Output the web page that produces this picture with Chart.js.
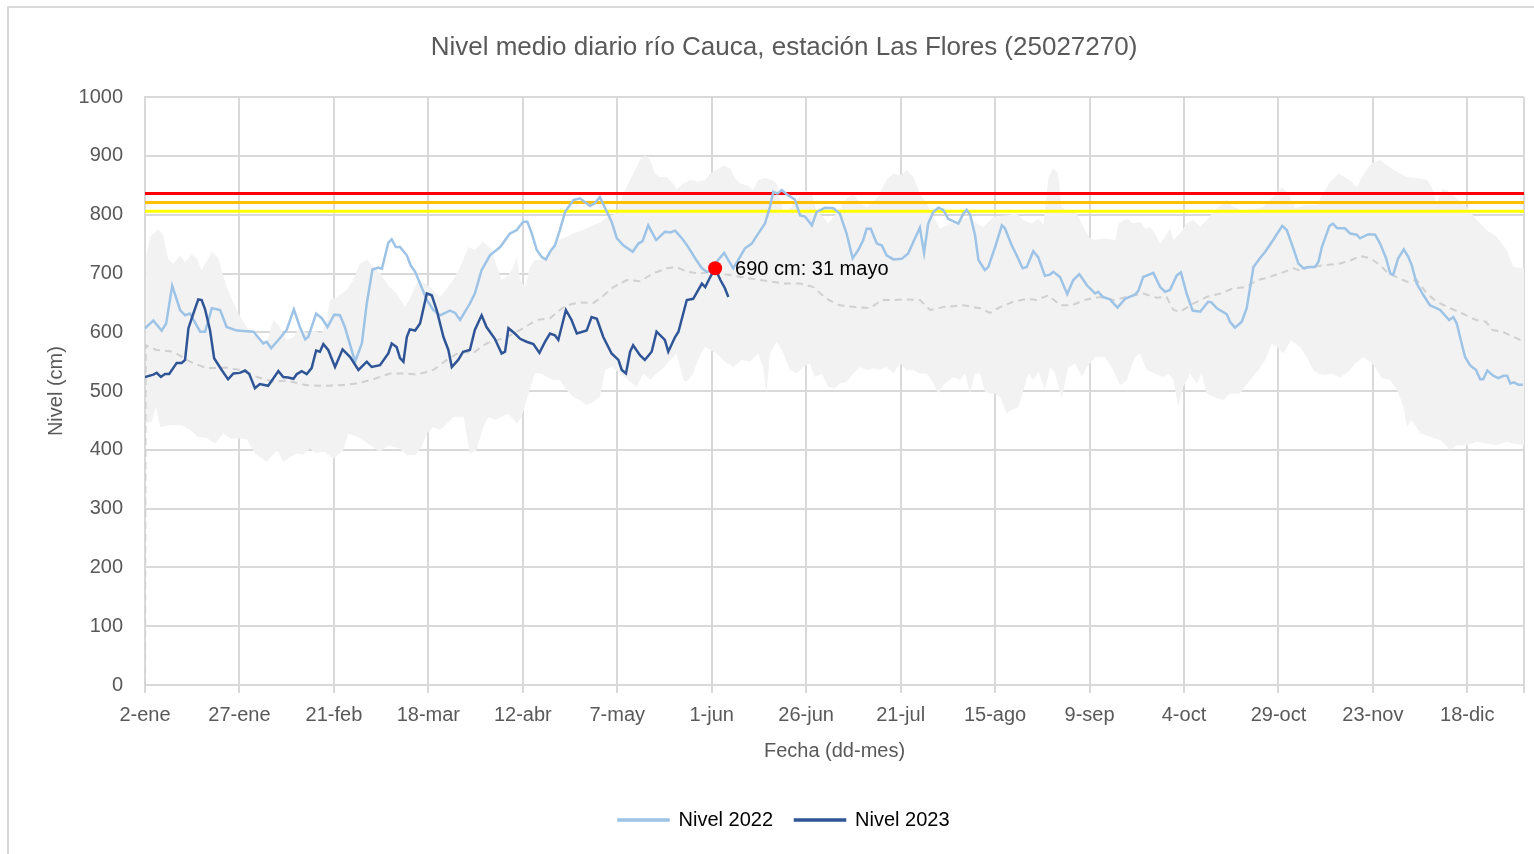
<!DOCTYPE html>
<html lang="es">
<head>
<meta charset="utf-8">
<title>Nivel medio diario río Cauca</title>
<script src="https://cdn.jsdelivr.net/npm/chart.js@4.4.1/dist/chart.umd.min.js"></script>
<style>
  html, body { margin: 0; padding: 0; background: #fff; }
  #marco { position: absolute; left: 7px; top: 6px; width: 1560px; height: 900px; border: 2px solid #d9d9d9; box-sizing: border-box; }
  #grafico { position: absolute; left: 0; top: 0; }
</style>
</head>
<body>
<div id="marco"></div>
<canvas id="grafico" width="1534" height="854"></canvas>
<script>
// Eje X: días desde el 2 de enero, etiqueta cada 25 días
const etiquetasX = ['2-ene', '27-ene', '21-feb', '18-mar', '12-abr', '7-may', '1-jun', '26-jun',
  '21-jul', '15-ago', '9-sep', '4-oct', '29-oct', '23-nov', '18-dic'];

// Umbrales de alerta (cm)
const umbralRojo = 836;
const umbralNaranja = 821;
const umbralAmarillo = 806;

// Punto marcado
const puntoMarcado = [150.9, 709];
const textoPunto = '690 cm: 31 mayo';

// [día, nivel cm]
const nivel2022 = [
  [0, 607], [2.2, 620], [4.4, 603], [5.6, 615], [7.2, 679], [9.3, 638], [10.6, 629], [11.9, 632],
  [14.6, 601], [15.9, 601], [17.7, 641], [19.9, 638], [21.6, 609], [24.3, 603], [28.7, 601], [31.3, 581],
  [32.2, 584], [33.4, 573], [35.3, 587], [37.5, 604], [39.4, 639], [41, 609], [42.4, 588], [43.2, 592],
  [45.3, 632], [46.8, 624], [48.3, 609], [50.1, 630], [51.6, 629], [52.9, 609], [55.6, 550], [57.4, 581],
  [58.7, 649], [60.2, 707], [61.8, 710], [62.7, 708], [64.4, 752], [65.3, 758], [66.4, 745], [67.5, 745],
  [69.3, 731], [70.3, 714], [71.5, 703], [73.7, 669], [74.6, 655], [76.3, 638], [78.1, 629], [80.7, 637],
  [82.1, 633], [83.4, 621], [86, 649], [87.3, 666], [89.1, 706], [91.3, 731], [94, 745], [96.6, 768],
  [98.4, 774], [100.1, 788], [101.2, 788], [102.4, 768], [103.7, 740], [105, 728], [106.1, 724], [107.2, 737],
  [108.5, 748], [109.8, 774], [111.2, 805], [113.4, 825], [115.1, 828], [117.8, 815], [119.1, 820], [120.4, 830],
  [121.8, 811], [123.5, 788], [124.9, 760], [126.6, 748], [129.1, 737], [130.6, 751], [131.7, 755], [133.2, 782],
  [135.3, 757], [137.6, 771], [139.1, 770], [140.3, 773], [142.1, 760], [143.8, 745], [145.6, 726], [147.4, 709],
  [148.7, 703], [150, 704], [151.7, 723], [153.3, 735], [154.4, 723], [155.7, 709], [157, 723], [158.8, 743],
  [160.6, 751], [162.3, 768], [164.1, 785], [165.4, 813], [166.3, 839], [167.4, 836], [168.5, 842], [170.3, 833],
  [172, 826], [173.4, 799], [174.7, 797], [176.5, 782], [177.8, 805], [180, 812], [182.2, 811], [183.9, 802],
  [185.7, 768], [187.3, 726], [188.8, 740], [190.1, 757], [191, 776], [192.1, 776], [193.7, 751], [195, 748],
  [196.3, 731], [198.1, 724], [200.3, 725], [202, 734], [203.8, 760], [205.1, 778], [206.2, 735], [207.3, 785],
  [208.7, 805], [210, 812], [211.3, 808], [212.6, 793], [215.3, 785], [216.6, 802], [217.5, 808], [218.4, 800],
  [219.7, 765], [220.6, 723], [222.3, 706], [223.2, 711], [225, 745], [226.8, 782], [227.6, 777], [229.4, 748],
  [230.7, 731], [232.3, 709], [233.4, 711], [235.1, 738], [236.4, 728], [238.2, 696], [239.5, 698], [240.4, 703],
  [242.2, 694], [244.1, 665], [245.7, 689], [247.3, 699], [249.3, 680], [251.5, 666], [252.3, 669], [253.6, 660],
  [255.4, 656], [257.4, 642], [259.4, 657], [262, 664], [262.9, 670], [264.2, 694], [266.9, 701], [268.7, 677],
  [270, 669], [271.3, 672], [273.1, 697], [274.2, 702], [275.7, 666], [277.3, 637], [279.3, 635], [281.4, 652],
  [282.3, 651], [283.7, 641], [286.3, 631], [287.2, 618], [288.5, 608], [290.3, 618], [291.6, 641], [293.4, 711],
  [295.1, 726], [296.5, 737], [298.6, 757], [301, 781], [302.2, 774], [303.5, 751], [305.3, 717], [306.6, 709],
  [308.4, 711], [309.7, 711], [310.6, 720], [311.5, 745], [313.5, 781], [314.4, 785], [315.6, 777], [317.6, 777],
  [319, 768], [320.7, 766], [321.6, 760], [323.8, 767], [325.6, 766], [326.9, 751], [328.5, 726], [329.6, 700],
  [330.4, 698], [331.7, 726], [333.2, 741], [334.4, 728], [335.3, 714], [336.6, 683], [338.4, 663], [340.1, 646],
  [341.5, 642], [342.8, 638], [345.2, 621], [346.3, 626], [347.2, 615], [348.5, 581], [349.4, 558], [350.7, 544],
  [352.3, 536], [353.4, 520], [354.2, 520], [355.3, 535], [356.9, 526], [358.2, 522], [359.6, 526], [360.5, 526],
  [361.4, 513], [362.3, 515], [363.5, 511], [364.7, 511]
];

const nivel2023 = [
  [0, 524], [2.2, 528], [3.1, 531], [4.2, 524], [5.3, 529], [6.4, 529], [8.4, 548], [9.7, 548],
  [10.6, 553], [11.5, 607], [12.8, 632], [14.1, 656], [15, 655], [15.9, 639], [17.2, 604], [18.3, 556],
  [20.3, 536], [22, 520], [23.4, 530], [25.1, 531], [26.5, 535], [27.6, 529], [29.1, 505], [30.4, 512],
  [32.6, 509], [34, 522], [35.3, 534], [36.6, 524], [37.9, 523], [39.3, 521], [40.2, 529], [41.5, 534],
  [42.8, 529], [44.1, 539], [45.3, 569], [46.3, 567], [47.2, 580], [48.5, 570], [50.3, 541], [52.3, 571],
  [54.3, 558], [56.5, 536], [58.7, 550], [60, 541], [62.2, 544], [64.4, 564], [65.3, 581], [66.6, 575],
  [67.5, 556], [68.4, 550], [69.3, 592], [70.1, 605], [71.5, 603], [72.8, 615], [74.6, 666], [75.9, 663],
  [77.2, 638], [79, 592], [80.3, 570], [81.2, 541], [82.9, 553], [84.2, 567], [86, 570], [87.3, 604],
  [89.1, 629], [90.4, 609], [92.6, 589], [94.4, 564], [95.3, 567], [96.2, 607], [97.9, 598], [99.3, 589],
  [101, 584], [102.8, 580], [104.4, 565], [105.9, 584], [107.2, 598], [108.5, 595], [109.4, 587], [111.4, 638],
  [112.9, 621], [114.3, 598], [116.9, 603], [118.2, 626], [119.6, 623], [121.3, 592], [123.5, 564], [125.3, 553],
  [126.2, 536], [127.3, 530], [128.4, 567], [129.2, 578], [131, 561], [132.3, 553], [134.1, 567], [135.4, 601],
  [137.6, 587], [138.5, 567], [140.3, 592], [141.2, 601], [143.4, 655], [145.1, 657], [147.4, 683], [148.3, 677],
  [149.6, 694], [150.9, 709], [152.3, 689], [153.5, 675], [154.4, 660]
];

const nivelMedio = [
  [0, 0], [0.2, 578], [3.1, 570], [7.5, 567], [11.9, 550], [16.3, 539], [21.6, 540], [25.1, 536],
  [29.6, 524], [34, 516], [37.5, 518], [42.8, 510], [47.2, 509], [51.6, 510], [56, 513], [60.4, 520],
  [64.8, 530], [69.3, 530], [71.9, 528], [76.3, 536], [79.9, 553], [83.4, 567], [86.9, 565], [90.4, 581],
  [95.7, 592], [99.3, 604], [103.7, 621], [107.2, 624], [109.8, 638], [111.6, 646], [115.1, 651], [118.7, 650],
  [120.9, 660], [124, 677], [127.5, 689], [131, 687], [134.5, 700], [138.1, 709], [140.7, 711], [143.4, 703],
  [146.9, 700], [149.6, 703], [158.8, 693], [169, 683], [173.4, 683], [176.9, 677], [180.4, 657], [183.9, 646],
  [187.9, 643], [191.9, 641], [195, 655], [198.1, 655], [201.6, 656], [205.1, 655], [207.8, 638], [211.3, 643],
  [216.6, 646], [221, 641], [223.7, 633], [226.3, 643], [229.8, 652], [233.4, 657], [236, 655], [239.1, 663],
  [242.2, 646], [245.3, 646], [249.3, 656], [252.8, 660], [256.3, 655], [259.8, 660], [264.2, 666], [267.8, 659],
  [270.4, 660], [272.2, 638], [274, 635], [277.5, 649], [281, 660], [284.6, 666], [288.1, 675], [291.6, 677],
  [294.3, 689], [296, 691], [300.4, 700], [304, 709], [306.2, 704], [307.5, 711], [311.9, 714], [316.3, 717],
  [319.4, 723], [321.6, 730], [324.3, 726], [327, 714], [329.1, 700], [331.3, 694], [334, 686], [336.6, 689],
  [339.3, 666], [341.9, 652], [345.5, 641], [348.7, 632], [352.3, 621], [354.9, 618], [356.7, 604], [359.3, 601],
  [362.3, 592], [364.9, 584]
];

const nivelMaximo = [
  [0.3, 728], [1.3, 762], [3.5, 775], [4.8, 765], [6.2, 723], [7.5, 717], [9.3, 731], [10.6, 719],
  [12.4, 733], [13.7, 725], [15, 706], [17.7, 737], [19.4, 726], [21.6, 677], [24.7, 632], [26.9, 609],
  [28.7, 595], [30.4, 592], [32.2, 581], [34, 621], [35.3, 612], [37.5, 587], [39.3, 592], [41, 609],
  [42.8, 598], [44.5, 603], [46.8, 598], [48.1, 620], [49, 655], [50.7, 660], [52.1, 666], [53.4, 672],
  [55.1, 689], [56.9, 717], [58.7, 724], [60.4, 712], [62.2, 700], [64.8, 677], [66.6, 666], [68.8, 643],
  [70.1, 657], [71.9, 683], [72.8, 689], [75.4, 677], [78.1, 660], [81.6, 689], [83.4, 711], [85.6, 745],
  [87.3, 740], [89.5, 754], [91.8, 740], [93.1, 711], [94.4, 689], [96.2, 697], [97.5, 711], [98.4, 728],
  [99.3, 689], [100.6, 677], [101.9, 711], [103.2, 723], [104.6, 723], [106.3, 728], [107.6, 740], [109.4, 757],
  [111.6, 762], [113.4, 768], [116, 774], [118.7, 782], [120.9, 788], [122.2, 796], [124.9, 802], [126.6, 836],
  [129.3, 870], [131, 893], [132.3, 901], [133.7, 893], [135, 870], [136.3, 864], [138.1, 864], [139.4, 856],
  [140.7, 844], [142.5, 853], [144.3, 859], [146.5, 856], [148.2, 859], [149.6, 870], [151.3, 876], [153.1, 884],
  [154.8, 879], [156.2, 862], [157.5, 853], [159.3, 850], [161, 842], [162.3, 859], [164.1, 862], [165.9, 859],
  [167.2, 853], [169, 802], [171.2, 813], [172.9, 830], [174.7, 842], [176.5, 836], [177.8, 805], [179.5, 796],
  [180.9, 785], [182.2, 796], [183.9, 808], [185.7, 828], [187.5, 836], [189.2, 819], [191, 813], [193.7, 828],
  [196.3, 859], [198.1, 870], [199.8, 867], [201.6, 876], [203.4, 864], [205.1, 836], [206.9, 819], [208.7, 796],
  [210.4, 776], [212.2, 782], [214, 788], [216.6, 793], [218.4, 796], [220.2, 785], [221.9, 779], [224.5, 796],
  [228.1, 799], [230.7, 802], [232.5, 791], [234.7, 785], [236.5, 793], [237.8, 782], [239.1, 864], [240.4, 879],
  [241.7, 870], [242.6, 813], [244.4, 805], [246.6, 802], [248.4, 779], [250.1, 760], [251.5, 757], [253.7, 760],
  [256.8, 757], [257.7, 785], [259.9, 793], [261.6, 785], [263.4, 788], [264.7, 776], [266, 779], [267.3, 768],
  [268.7, 751], [270, 762], [271.3, 776], [272.2, 757], [274, 768], [275.7, 785], [277.5, 791], [279.3, 779],
  [281, 791], [282.8, 805], [284.6, 816], [286.3, 825], [288.1, 813], [290.7, 808], [292.5, 808], [296, 813],
  [298.6, 830], [300.9, 847], [302.6, 836], [304.4, 811], [307, 816], [310.1, 816], [311.5, 833], [313.7, 856],
  [315.9, 870], [317.6, 864], [319.4, 856], [320.7, 847], [322.9, 873], [324.7, 887], [327, 893], [328.7, 884],
  [331.4, 873], [334, 864], [336.6, 862], [339.3, 859], [340.6, 847], [341.9, 819], [343.3, 844], [344.6, 842],
  [346.3, 833], [348.1, 822], [349.9, 813], [350.7, 805], [352.5, 791], [355.1, 774], [357.8, 762], [360.4, 740],
  [362.2, 711], [364, 709], [365, 709]
];

const nivelMinimo = [
  [0.3, 445], [1.8, 448], [2.9, 473], [4, 439], [6.6, 442], [9.7, 442], [11.9, 434], [14.1, 422],
  [16.3, 420], [18.5, 411], [20.7, 428], [22.9, 418], [24.3, 420], [26.9, 418], [29.1, 394], [32.2, 380],
  [34.9, 400], [36.6, 380], [38.4, 388], [40.2, 394], [41.9, 392], [43.7, 402], [45, 395], [47.6, 397],
  [49.8, 385], [52.5, 400], [53.8, 428], [56.9, 420], [59.6, 408], [62.2, 397], [64.4, 408], [67.5, 402],
  [69.3, 391], [71.5, 391], [73.2, 405], [74.6, 428], [76.3, 439], [78.1, 434], [79.9, 445], [81.6, 456],
  [84.3, 456], [86, 394], [87.8, 400], [89.5, 439], [90.9, 456], [92.6, 451], [94.4, 456], [96.2, 462],
  [98.4, 445], [99.7, 456], [101.5, 496], [103.2, 530], [105, 530], [106.3, 524], [108.1, 519], [109.8, 519],
  [111.6, 502], [113.4, 490], [115.1, 485], [116.9, 476], [118.7, 482], [120.4, 490], [121.8, 536], [123.5, 541],
  [125.8, 530], [127.9, 519], [130.1, 507], [131.9, 530], [133.7, 519], [135.4, 530], [137.2, 539], [139, 553],
  [140.7, 564], [142.5, 519], [143.4, 516], [145.1, 530], [146.5, 556], [148.2, 575], [151.3, 564], [153.5, 550],
  [155.7, 541], [157.9, 553], [160.1, 550], [162.3, 564], [163.6, 541], [164.5, 496], [165.4, 564], [167.2, 584],
  [169, 564], [170.7, 536], [172.5, 530], [174.2, 541], [176, 547], [177.3, 524], [179.1, 530], [180.9, 507],
  [182.6, 505], [183.9, 513], [185.7, 516], [187.5, 530], [189.3, 541], [191, 536], [192.8, 539], [194.5, 536],
  [196.3, 541], [198.1, 530], [199.8, 547], [201.6, 536], [203.4, 536], [205.1, 530], [206.9, 530], [208.7, 513],
  [210, 496], [211.7, 513], [214, 524], [215.7, 519], [217, 530], [218.4, 496], [219.7, 530], [221, 530],
  [222.3, 499], [223.7, 496], [225, 496], [226.3, 490], [228.1, 462], [229.4, 468], [231.2, 473], [232.5, 502],
  [233.8, 530], [235.1, 519], [236.5, 533], [238.2, 502], [239.6, 541], [240.9, 530], [242.6, 488], [244.4, 541],
  [246.2, 547], [248, 524], [249.3, 541], [251.5, 558], [254.1, 558], [256.3, 536], [258.1, 510], [259.9, 519],
  [262, 558], [263.4, 564], [265.1, 536], [267.3, 530], [269.5, 524], [270.9, 530], [272.2, 519], [273.5, 473],
  [274.8, 507], [276.6, 530], [278.4, 513], [279.7, 530], [281, 496], [282.8, 490], [285.4, 485], [287.2, 496],
  [289.8, 496], [292.5, 519], [294.7, 536], [296.5, 553], [298.2, 581], [299.6, 575], [301.3, 564], [303.3, 587],
  [305.7, 575], [307.5, 558], [309.2, 536], [310.6, 530], [312.4, 527], [314.1, 530], [316.3, 523], [318.5, 533],
  [320.3, 547], [322.5, 558], [324.3, 550], [325.6, 541], [327.4, 522], [329.6, 519], [331.4, 502], [333.1, 473],
  [334, 439], [335.3, 451], [337.6, 428], [340.3, 422], [342.8, 417], [345.5, 400], [347.2, 408], [349.9, 408],
  [352.5, 414], [355.1, 411], [357.8, 408], [360.4, 414], [362.2, 411], [365, 408]
];

const aPuntos = serie => serie.map(([d, v]) => ({ x: d, y: v }));
const lineaUmbral = v => [{ x: 0, y: v }, { x: 365, y: v }];

const fuente = "'Liberation Sans', Arial, sans-serif";
const gris = '#595959';

// Texto junto al punto marcado
const etiquetaPunto = {
  id: 'etiquetaPunto',
  afterDatasetsDraw(chart) {
    const { ctx, scales: { x, y } } = chart;
    const px = x.getPixelForValue(puntoMarcado[0]);
    const py = y.getPixelForValue(puntoMarcado[1]);
    ctx.save();
    ctx.font = '20px ' + fuente;
    ctx.fillStyle = '#000';
    ctx.textBaseline = 'middle';
    ctx.fillText(textoPunto, px + 20, py + 1);
    ctx.restore();
  }
};

new Chart(document.getElementById('grafico'), {
  type: 'line',
  data: {
    datasets: [
      { label: 'Nivel 2022', data: aPuntos(nivel2022), borderColor: '#9dc3e6', backgroundColor: '#9dc3e6',
        borderWidth: 2.5, order: 3 },
      { label: 'Nivel 2023', data: aPuntos(nivel2023), borderColor: '#2f5597', backgroundColor: '#2f5597',
        borderWidth: 2.5, order: 2 },
      { label: 'punto', data: [{ x: puntoMarcado[0], y: puntoMarcado[1] }], showLine: false,
        pointRadius: 7, pointBackgroundColor: '#ff0000', pointBorderWidth: 0, order: 1 },
      { label: 'rojo', data: lineaUmbral(umbralRojo), borderColor: '#ff0000', borderWidth: 3, order: 4 },
      { label: 'naranja', data: lineaUmbral(umbralNaranja), borderColor: '#ffc000', borderWidth: 3, order: 4 },
      { label: 'amarillo', data: lineaUmbral(umbralAmarillo), borderColor: '#ffff00', borderWidth: 3, order: 4 },
      { label: 'medio', data: aPuntos(nivelMedio), borderColor: '#d0d0d0', borderWidth: 2,
        borderDash: [7, 5], order: 6 },
      { label: 'max', data: aPuntos(nivelMaximo), borderWidth: 0, borderColor: 'rgba(0,0,0,0)',
        backgroundColor: '#f2f2f2', fill: '+1', order: 10 },
      { label: 'min', data: aPuntos(nivelMinimo), borderWidth: 0, borderColor: 'rgba(0,0,0,0)', order: 11 }
    ]
  },
  options: {
    responsive: false,
    animation: false,
    events: [],
    elements: { point: { radius: 0 }, line: { tension: 0 } },
    layout: { padding: { top: 18, left: 44, right: 10, bottom: 14 } },
    plugins: {
      title: {
        display: true,
        text: 'Nivel medio diario río Cauca, estación Las Flores (25027270)',
        color: gris,
        font: { family: fuente, size: 26, weight: 'normal' },
        padding: { top: 14, bottom: 34 }
      },
      legend: {
        position: 'bottom',
        labels: {
          filter: item => item.text === 'Nivel 2022' || item.text === 'Nivel 2023',
          sort: (a, b) => a.datasetIndex - b.datasetIndex,
          color: '#000',
          font: { family: fuente, size: 20 },
          boxWidth: 50,
          boxHeight: 1,
          padding: 22
        }
      },
      tooltip: { enabled: false }
    },
    scales: {
      x: {
        type: 'linear',
        min: 0,
        max: 365,
        afterFit: s => { s.height = 103; },
        grid: { color: '#d9d9d9', lineWidth: 2, tickLength: 8, tickColor: '#d9d9d9' },
        border: { color: '#d9d9d9', width: 2 },
        ticks: {
          stepSize: 25,
          color: gris,
          font: { family: fuente, size: 20 },
          padding: 10,
          maxRotation: 0,
          autoSkip: false,
          callback: v => etiquetasX[v / 25] ?? ''
        },
        title: {
          display: true,
          text: 'Fecha (dd-mes)',
          color: gris,
          font: { family: fuente, size: 20 },
          padding: { top: 10, bottom: 25 }
        }
      },
      y: {
        min: 0,
        max: 1000,
        afterFit: s => { s.width = 101; },
        grid: { color: '#d9d9d9', lineWidth: 2, drawTicks: false },
        border: { color: '#d9d9d9', width: 2 },
        ticks: {
          stepSize: 100,
          color: gris,
          font: { family: fuente, size: 20 },
          padding: 22,
          callback: v => String(v)
        },
        title: {
          display: true,
          text: 'Nivel (cm)',
          color: gris,
          font: { family: fuente, size: 20 },
          padding: { top: 0, bottom: 6 }
        }
      }
    }
  },
  plugins: [etiquetaPunto]
});
</script>
</body>
</html>
